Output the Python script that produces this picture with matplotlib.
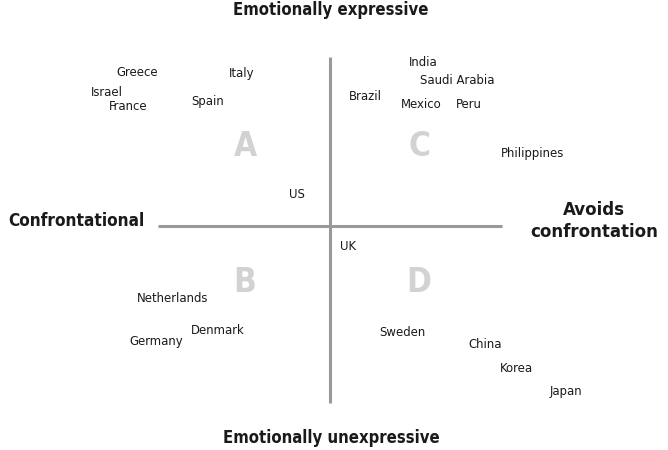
import matplotlib.pyplot as plt

# 나라 위치 (중심 기준 좌표, 오른쪽 = 갈등 회피, 위쪽 = 감정 표현)
countries = ['Greece', 'Italy', 'Israel', 'France', 'Spain', 'US',
             'India', 'Saudi Arabia', 'Brazil', 'Mexico', 'Peru', 'Philippines',
             'UK', 'Netherlands', 'Denmark', 'Germany',
             'Sweden', 'China', 'Korea', 'Japan']
x_vals = [-193, -88, -223, -202, -122, -33,
          93, 127, 35, 91, 139, 203,
          18, -157, -112, -174,
          72, 155, 186, 236]
y_vals = [153, 152, 133, 119, 125, 32,
          163, 145, 130, 122, 122, 72,
          -20, -72, -104, -116,
          -107, -119, -142, -166]

quadrants = ['A', 'C', 'B', 'D']
quad_x = [-85, 89, -85, 89]
quad_y = [79, 79, -57, -57]

fig = plt.figure(figsize=(6.68, 4.5), dpi=100)
ax = fig.add_axes([0, 0, 1, 1])
ax.set_xlim(-330, 338)
ax.set_ylim(-224, 226)
ax.axis('off')

# 십자 축
ax.plot([-172, 172], [0, 0], color='#999999', lw=2.2, solid_capstyle='butt')
ax.plot([0, 0], [-177, 169], color='#999999', lw=2.2, solid_capstyle='butt')

# 사분면 글자
for q, qx, qy in zip(quadrants, quad_x, quad_y):
    ax.text(qx, qy, q, ha='center', va='center', fontsize=24,
            weight='bold', color='#d2d2d2', fontstretch='condensed')

# 나라 이름
for name, cx, cy in zip(countries, x_vals, y_vals):
    ax.text(cx, cy, name, ha='center', va='center', fontsize=9.4,
            color='#1a1a1a', fontstretch='condensed')

# 축 제목
lab = dict(weight='bold', color='#1a1a1a', fontstretch='condensed')
ax.text(1, 216, 'Emotionally expressive', ha='center', va='center',
        fontsize=12, **lab)
ax.text(1, -212, 'Emotionally unexpressive', ha='center', va='center',
        fontsize=12, **lab)
ax.text(-254, 5, 'Confrontational', ha='center', va='center',
        fontsize=12.3, **lab)
ax.text(264, 5, 'Avoids\nconfrontation', ha='center', va='center',
        linespacing=1.35, fontsize=13.3, **lab)

fig.savefig('out.png', dpi=100)
